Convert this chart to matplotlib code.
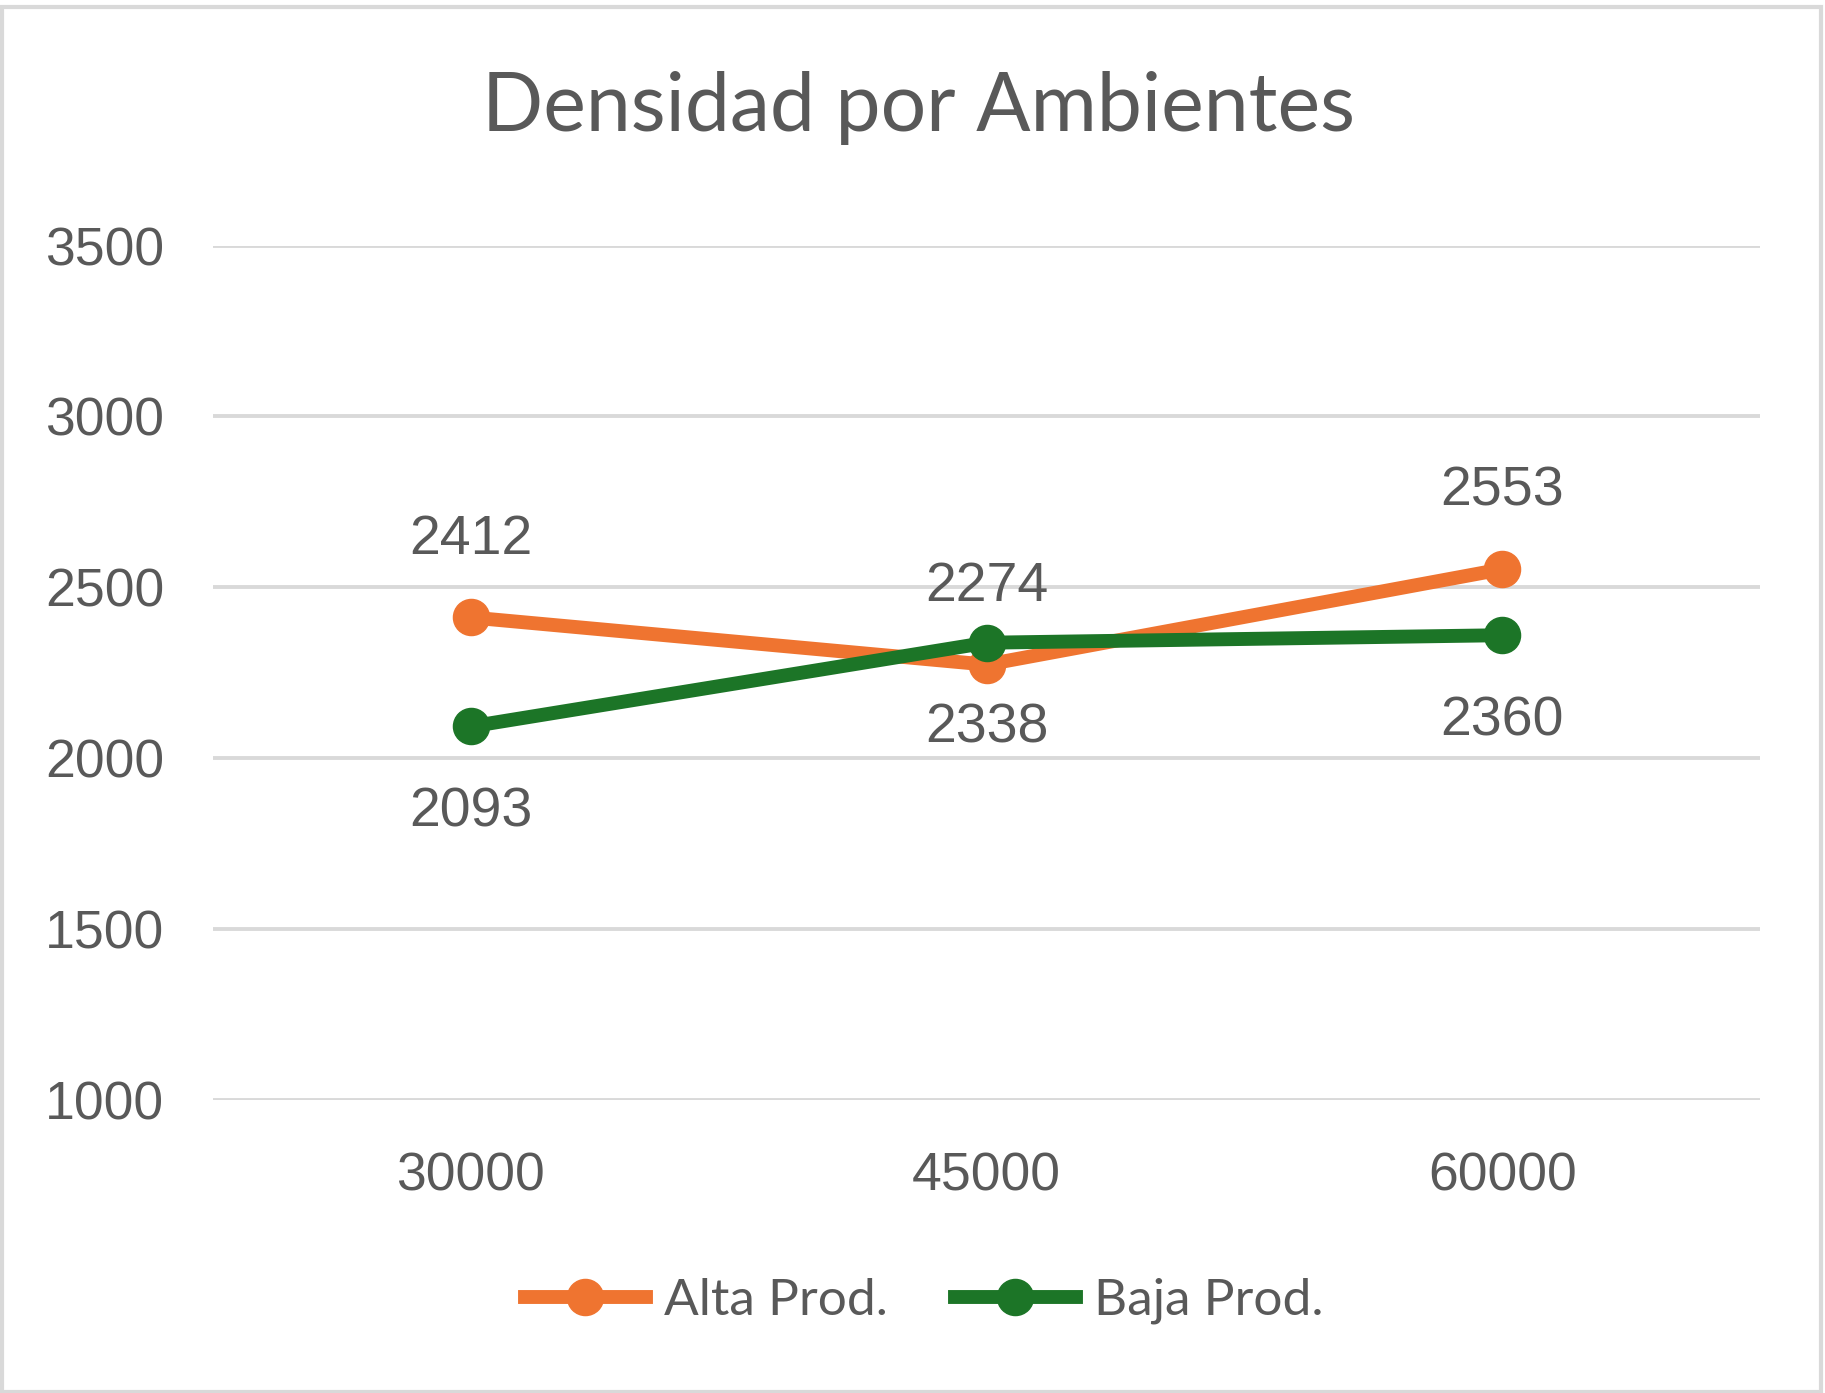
import matplotlib.pyplot as plt
from matplotlib.patches import Rectangle

# Datos
categorias = ["30000", "45000", "60000"]
alta = [2412, 2274, 2553]
baja = [2093, 2338, 2360]
yticks = [1000, 1500, 2000, 2500, 3000, 3500]

naranja = "#EF7430"
verde = "#1C7527"
gris_txt = "#595959"

fig = plt.figure(figsize=(18.25, 13.93), dpi=100)
ax = fig.add_axes([213/1825, 1 - 1100/1393, 1547/1825, (1100 - 245.6)/1393])

x = range(len(categorias))
ax.plot(x, alta, "-o", color=naranja, lw=10, ms=26, label="Alta Prod.", zorder=3)
ax.plot(x, baja, "-o", color=verde, lw=10, ms=26, label="Baja Prod.", zorder=4)

for i, v in enumerate(alta):
    ax.annotate(str(v), (i, v), xytext=(0, 56), textcoords="offset points",
                ha="center", va="center", fontsize=40, color=gris_txt,
                family="Liberation Sans")
for i, v in enumerate(baja):
    ax.annotate(str(v), (i, v), xytext=(0, -62), textcoords="offset points",
                ha="center", va="center", fontsize=40, color=gris_txt,
                family="Liberation Sans")

ax.set_xlim(-0.5, 2.5)
ax.set_ylim(1000, 3500)
ax.set_yticks(yticks)
ax.set_xticks(list(x))
ax.set_xticklabels(categorias)
ax.tick_params(length=0, labelsize=38.5, labelcolor=gris_txt, pad=35)
ax.tick_params(axis="x", pad=37)
for lbl in ax.get_xticklabels() + ax.get_yticklabels():
    lbl.set_family("Liberation Sans")
for s in ax.spines.values():
    s.set_visible(False)
ax.grid(axis="y", color="#D9D9D9", lw=2.8)
ax.set_axisbelow(True)

fig.text(919/1825, 1 - 108/1393, "Densidad por Ambientes", ha="center", va="center",
         fontsize=58, color=gris_txt, family="Lato")

leg = fig.legend(loc="center", bbox_to_anchor=(924/1825, 1 - 1301/1393), ncol=2,
                 frameon=False, handlelength=2.36, handletextpad=0.35, columnspacing=1.3,
                 prop={"family": ["Liberation Sans Narrow", "Lato"], "size": 37})
for t in leg.get_texts():
    t.set_color(gris_txt)

fig.patches.append(Rectangle((0.001, 0.001), 0.997, 0.994, transform=fig.transFigure,
                             fill=False, edgecolor="#D9D9D9", lw=3))

fig.savefig("out.png", dpi=100)
